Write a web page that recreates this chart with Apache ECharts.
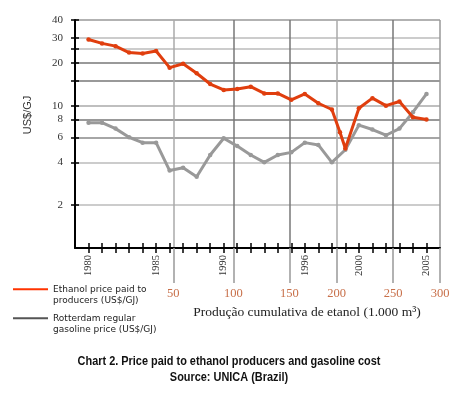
<!DOCTYPE html>
<html>
<head>
<meta charset="utf-8">
<script src="https://cdn.jsdelivr.net/npm/echarts@6/dist/echarts.min.js"></script>
<style>
  html, body { margin: 0; padding: 0; background: #fff; }
  #chart { width: 470px; height: 399px; }
</style>
</head>
<body>
<div id="chart"></div>
<script>
// 年份刻度
const years = [1980, 1981, 1982, 1983, 1984, 1985, 1986, 1987, 1988, 1989, 1990, 1991, 1992,
  1993, 1994, 1995, 1996, 1997, 1998, 1999, 2000, 2001, 2002, 2003, 2004, 2005]
const labelYears = [1980, 1985, 1990, 1996, 2000, 2005]

// 乙醇价格 (US$/GJ)
const ethanolYears = [1980, 1981, 1982, 1983, 1984, 1985, 1986, 1987, 1988, 1989, 1990, 1991, 1992,
  1993, 1994, 1995, 1996, 1997, 1998, 1998.6, 1999, 2000, 2001, 2002, 2003, 2004, 2005]
const ethanolPrice = [29.2, 27.4, 26.2, 23.6, 23.3, 24.2, 18.5, 19.7, 16.9, 14.2, 12.9, 13.1, 13.6,
  12.2, 12.2, 11.0, 12.1, 10.4, 9.4, 6.5, 5.0, 9.6, 11.3, 10.0, 10.7, 8.3, 8.0]

// 鹿特丹汽油价格 (US$/GJ)
const gasolinePrice = [7.6, 7.6, 6.9, 6.0, 5.5, 5.5, 3.5, 3.66, 3.17, 4.5, 5.9, 5.2, 4.5,
  4.0, 4.5, 4.7, 5.5, 5.3, 4.0, 4.9, 7.3, 6.8, 6.2, 6.9, 9.0, 12.1]

// 累计产量刻度 (1.000 m3) 及达到该产量的年份
const prodTicks = [50, 100, 150, 200, 250, 300]
const prodYears = [1986.27, 1990.71, 1994.85, 1998.36, 2002.54, 2006]

// 纵轴刻度
const yTicks = [2, 4, 6, 8, 10, 15, 20, 25, 30, 40]
const yLabels = [2, 4, 6, 8, 10, 20, 30, 40]

const ETHANOL_NAME = 'Ethanol price paid to\nproducers (US$/GJ)'
const GASOLINE_NAME = 'Rotterdam regular\ngasoline price (US$/GJ)'

const SERIF = "'Liberation Serif', 'DejaVu Serif', serif"
const SANS = "'DejaVu Sans', 'Liberation Sans', sans-serif"
const ARIAL = "'Liberation Sans', Arial, sans-serif"
const RED = '#e03e0e'

const chart = echarts.init(document.getElementById('chart'))

const tickStyle = { color: '#000', width: 1.5 }

const option = {
  backgroundColor: '#fff',
  animation: false,
  legend: {
    orient: 'vertical',
    left: 8,
    top: 267,
    itemGap: -5.5,
    itemWidth: 35,
    itemHeight: 2,
    icon: 'rect',
    selectedMode: false,
    // 前置空行，使图例线与第一行文字对齐
    formatter: (name) => ' \n' + name,
    textStyle: {
      fontFamily: SANS,
      fontSize: 9,
      color: '#222',
      lineHeight: 11.5,
    },
    data: [
      { name: ETHANOL_NAME, itemStyle: { color: '#ff3300' } },
      { name: GASOLINE_NAME, itemStyle: { color: '#555' } },
    ],
  },
  grid: { left: 75, right: 30, top: 20, bottom: 151 },
  xAxis: [
    {
      // 年份轴
      type: 'value',
      min: 1979,
      max: 2006,
      position: 'bottom',
      axisLine: { show: true, onZero: false, lineStyle: { color: '#000', width: 2 } },
      axisTick: { show: true, inside: true, length: 5, customValues: years, lineStyle: tickStyle },
      axisLabel: {
        customValues: labelYears,
        rotate: 90,
        margin: 7,
        fontFamily: SERIF,
        fontSize: 10.5,
        color: '#333',
        formatter: (val) => String(val),
      },
      splitLine: { show: false },
    },
    {
      // 累计产量轴
      type: 'value',
      min: 1979,
      max: 2006,
      position: 'bottom',
      offset: 35,
      axisLine: { show: false },
      axisTick: {
        show: true,
        inside: true,
        length: 35,
        customValues: prodYears,
        lineStyle: { color: '#999', width: 1.5 },
      },
      axisLabel: {
        customValues: prodYears,
        margin: 4,
        fontFamily: SERIF,
        fontSize: 12.5,
        color: '#c8704a',
        formatter: (val) => {
          const i = prodYears.indexOf(val)
          return i >= 0 ? String(prodTicks[i]) : ''
        },
      },
      splitLine: {
        show: true,
        lineStyle: { color: ['#aaa', '#777', '#777', '#aaa', '#777', '#999'], width: 1.5 },
      },
    },
    {
      // 年份刻度外侧部分
      type: 'value',
      min: 1979,
      max: 2006,
      position: 'bottom',
      axisLine: { show: false },
      axisTick: { show: true, inside: false, length: 5, customValues: years, lineStyle: tickStyle },
      axisLabel: { show: false },
      splitLine: { show: false },
    },
  ],
  yAxis: [
    {
      type: 'log',
      logBase: 10,
      min: 1,
      max: 40,
      position: 'left',
      axisLine: { show: true, onZero: false, lineStyle: { color: '#000', width: 2 } },
      axisTick: { show: true, inside: true, length: 4, customValues: yTicks, lineStyle: tickStyle },
      axisLabel: {
        customValues: yLabels,
        margin: 12,
        fontFamily: SERIF,
        fontSize: 11,
        color: '#333',
      },
      splitLine: {
        show: true,
        lineStyle: {
          color: ['#bbb', '#bbb', '#888', '#777', '#aaa', '#777', '#777', '#bbb', '#bbb', '#999'],
          width: 1.5,
        },
      },
      minorTick: { show: false },
    },
    {
      type: 'log',
      logBase: 10,
      min: 1,
      max: 40,
      position: 'left',
      axisLine: { show: false },
      axisTick: { show: true, inside: false, length: 4, customValues: yTicks, lineStyle: tickStyle },
      axisLabel: { show: false },
      splitLine: { show: false },
    },
  ],
  graphic: [
    {
      type: 'text',
      x: 28,
      y: 115,
      rotation: Math.PI / 2,
      style: {
        text: 'US$/GJ',
        fontFamily: ARIAL,
        fontSize: 11,
        fill: '#333',
        align: 'center',
        verticalAlign: 'middle',
      },
    },
    {
      type: 'text',
      x: 307,
      y: 312,
      style: {
        text: 'Produção cumulativa de etanol (1.000 m³)',
        fontFamily: SERIF,
        fontSize: 13.5,
        fill: '#222',
        align: 'center',
        verticalAlign: 'middle',
      },
    },
    {
      // 标题（窄体）
      type: 'text',
      x: 229,
      y: 362,
      scaleX: 0.91,
      style: {
        text: 'Chart 2. Price paid to ethanol producers and gasoline cost',
        fontFamily: ARIAL,
        fontSize: 12,
        fontWeight: 'bold',
        fill: '#111',
        align: 'center',
        verticalAlign: 'middle',
      },
    },
    {
      type: 'text',
      x: 229,
      y: 378,
      scaleX: 0.91,
      style: {
        text: 'Source: UNICA (Brazil)',
        fontFamily: ARIAL,
        fontSize: 12,
        fontWeight: 'bold',
        fill: '#111',
        align: 'center',
        verticalAlign: 'middle',
      },
    },
  ],
  series: [
    {
      name: GASOLINE_NAME,
      type: 'line',
      data: years.map((y, i) => [y, gasolinePrice[i]]),
      symbol: 'circle',
      symbolSize: 4.5,
      lineStyle: { color: '#999', width: 3 },
      itemStyle: { color: '#999' },
      z: 2,
    },
    {
      name: ETHANOL_NAME,
      type: 'line',
      data: ethanolYears.map((y, i) => [y, ethanolPrice[i]]),
      symbol: 'circle',
      symbolSize: 4.5,
      lineStyle: { color: RED, width: 3 },
      itemStyle: { color: RED },
      z: 3,
    },
  ],
}

chart.setOption(option)
</script>
</body>
</html>
